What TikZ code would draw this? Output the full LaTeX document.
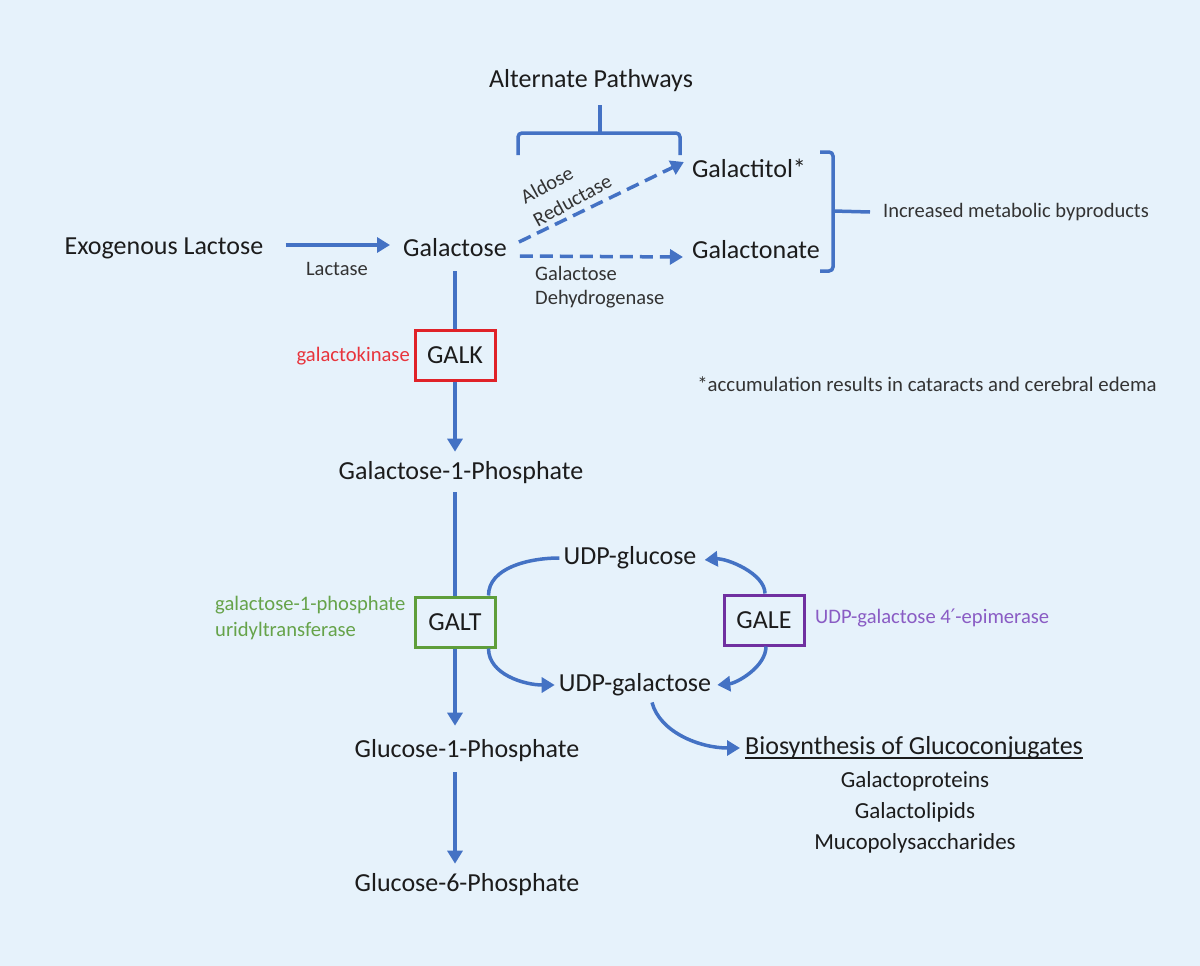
\documentclass[tikz,border=0pt]{standalone}
\usepackage{fontspec}
\setmainfont{Carlito}
\newfontfamily\dejavu{DejaVu Sans}
\usetikzlibrary{arrows.meta}
\definecolor{bg}{HTML}{E6F2FB}
\definecolor{ablue}{HTML}{4472C4}
\definecolor{gred}{HTML}{E02228}
\definecolor{ggreen}{HTML}{5E9E3A}
\definecolor{gpurple}{HTML}{7030A0}
\definecolor{tred}{HTML}{E8343C}
\definecolor{tgreen}{HTML}{66A34A}
\definecolor{tpurple}{HTML}{8A5CC4}
\definecolor{txt}{HTML}{1C1C1C}
\definecolor{txt2}{HTML}{333333}
\begin{document}
\begin{tikzpicture}[x=1pt,y=-1pt,
  big/.style={font=\fontsize{26}{30}\selectfont, text=txt, inner sep=0pt},
  mid/.style={font=\fontsize{23}{27}\selectfont, text=txt, inner sep=0pt},
  sm/.style={font=\fontsize{20.5}{26}\selectfont, text=txt2, inner sep=0pt},
  enz/.style={font=\fontsize{20.6}{26}\selectfont, inner sep=0pt},
  ebox/.style={big, draw, line width=3pt, minimum width=80pt, minimum height=50pt, fill=bg},
  tip/.style={-{Triangle[length=13pt,width=15pt]}},
  flow/.style={draw=ablue, line width=3.5pt},
  dflow/.style={flow, dash pattern=on 13pt off 7pt},
  brk/.style={draw=ablue, line width=3.5pt, rounded corners=4pt},
]
\fill[bg] (0,0) rectangle (1200,966);
\useasboundingbox (0,0) rectangle (1200,966);

% nodes
\node[big] (title) at (591,81) {Alternate Pathways};
\node[big] (exo) at (164,248) {Exogenous Lactose};
\node[big] (gal) at (455,248) {Galactose};
\node[big] (galactitol) at (749,168) {Galactitol*};
\node[big] (galactonate) at (756,250) {Galactonate};
\node[sm] (byprod) at (1016,212) {Increased metabolic byproducts};
\node[sm] (lactase) at (337,269) {Lactase};
\node[sm, rotate=28.5, align=left, font=\fontsize{20.5}{26}\selectfont] (aldred) at (566,189) {Aldose\\Reductase};
\node[sm, anchor=west] (galdh1) at (535,273) {Galactose};
\node[sm, anchor=west] (galdh2) at (535,299) {Dehydrogenase};
\node[ebox, draw=gred] (galk) at (455,355) {GALK};
\node[enz, text=tred, anchor=east] (galkname) at (410,356) {galactokinase};
\node[sm, font=\fontsize{20.8}{26}\selectfont] (accum) at (927,384) {*accumulation results in cataracts and cerebral edema};
\node[big] (g1p) at (461,473) {Galactose-1-Phosphate};
\node[ebox, draw=ggreen] (galt) at (455,622) {GALT};
\node[enz, text=tgreen, anchor=west] (galtname1) at (215,605) {galactose-1-phosphate};
\node[enz, text=tgreen, anchor=west] (galtname2) at (215,631) {uridyltransferase};
\node[big] (udpglc) at (630,558) {UDP-glucose};
\node[big] (udpgal) at (635,685) {UDP-galactose};
\node[ebox, draw=gpurple] (gale) at (764,620) {GALE};
\node[enz, text=tpurple, anchor=west] (galename) at (815,618) {UDP-galactose 4{\dejavu\fontsize{20}{20}\selectfont\char"2032}-epimerase};
\node[big] (glc1p) at (467,751) {Glucose-1-Phosphate};
\node[big] (glc6p) at (467,885) {Glucose-6-Phosphate};
\node[big, anchor=west] (bio) at (745,748) {Biosynthesis of Glucoconjugates};
\node[mid] (bio1) at (915,781) {Galactoproteins};
\node[mid] (bio2) at (915,812) {Galactolipids};
\node[mid] (bio3) at (915,843) {Mucopolysaccharides};

% underline
\draw[txt, line width=1.6pt] ([yshift=-3.5pt]bio.base west) -- ([yshift=-3.5pt]bio.base east);

% brackets
\draw[brk] (518,155) -- (518,133) -- (680,133) -- (680,155);
\draw[brk] (600,133) -- (600,105);
\draw[brk] (820,152) -- (833,152) -- (833,271) -- (820,271);
\draw[brk] (833,211) -- (byprod.west -| 870,0);

% main flow
\draw[flow, tip] ([yshift=3pt]exo.east) ++(22pt,0) -- ([shift={(-13pt,3pt)}]gal.west);
\draw[dflow, tip] ([shift={(12pt,6pt)}]gal.east) -- ([shift={(-8pt,6pt)}]galactitol.west);
\draw[dflow, tip] ([shift={(13pt,-8pt)}]gal.east) -- ([shift={(-9pt,-7pt)}]galactonate.west);
\draw[flow] ([yshift=-14pt]gal.south) -- (galk.north);
\draw[flow, tip] (galk.south) -- ([yshift=10pt]g1p.north -| galk.south);
\draw[flow] ([yshift=-8pt]g1p.south -| galt.north) -- (galt.north);
\draw[flow, tip] (galt.south) -- ([yshift=14pt]glc1p.north -| galt.south);
\draw[flow, tip] ([yshift=-10pt]glc1p.south -| galt.south) -- ([yshift=10pt]glc6p.north -| galt.south);

% UDP cycle
\draw[flow] ([xshift=-8pt]galt.north east) .. controls +(0,-28) and +(-30,0) .. ([xshift=-4pt]udpglc.west);
\draw[flow, tip] ([xshift=1pt]gale.north) .. controls +(0,-20) and +(22,-2) .. ([shift={(8pt,-2pt)}]udpglc.east);
\draw[flow, tip] ([xshift=-8pt]galt.south east) .. controls +(0,26) and +(-30,0) .. ([shift={(-4pt,0pt)}]udpgal.west);
\draw[flow, tip] ([xshift=2pt]gale.south) .. controls +(0,20) and +(20,-2) .. ([shift={(6pt,0pt)}]udpgal.east);
\draw[flow, tip] ([shift={(17pt,-6pt)}]udpgal.south) .. controls +(8,30) and +(-40,0) .. ([xshift=-5pt]bio.west);
\end{tikzpicture}
\end{document}
